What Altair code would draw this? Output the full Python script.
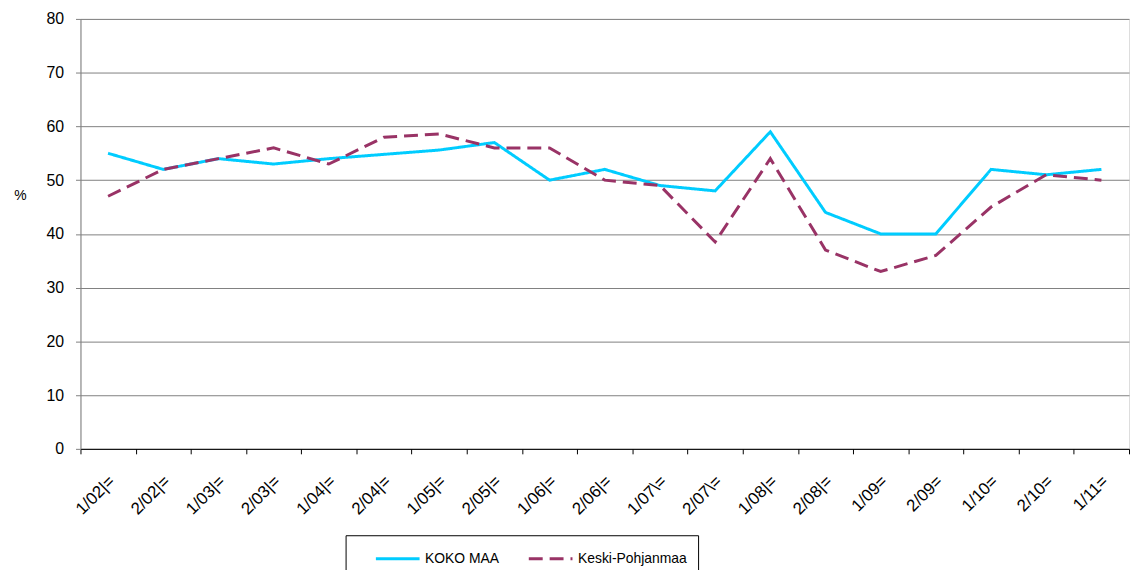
import altair as alt
import pandas as pd

periods = ["1/02|=", "2/02|=", "1/03|=", "2/03|=", "1/04|=", "2/04|=", "1/05|=",
           "2/05|=", "1/06|=", "2/06|=", "1/07\\=", "2/07\\=", "1/08|=", "2/08|=",
           "1/09=", "2/09=", "1/10=", "2/10=", "1/11="]
koko_maa = [55, 52, 54, 53, 54, 54.8, 55.6, 57, 50, 52, 49, 48, 59, 44, 40, 40, 52, 51, 52]
keski_pohjanmaa = [47, 52, 54, 56, 53, 58, 58.6, 56, 56, 50, 49, 38.5, 54, 37, 33, 36, 45, 51, 50]
series = ["KOKO MAA", "Keski-Pohjanmaa"]
colors = ["#00CCFF", "#993366"]

rows = []
for name, vals in zip(series, [koko_maa, keski_pohjanmaa]):
    for i, (p, v) in enumerate(zip(periods, vals)):
        rows.append({"period": p, "value": v, "series": name, "order": i})
df = pd.DataFrame(rows)

FONT = "Liberation Sans"


def make_legend():
    return alt.Legend(title=None, orient="none", legendX=267, legendY=520,
                      direction="horizontal", strokeColor="black",
                      padding=11, symbolType="M-2,0L2,0",
                      symbolSize=484, symbolStrokeWidth=3,
                      labelFont=FONT, labelFontSize=14, labelOffset=15,
                      labelColor="black", columnPadding=10,
                      symbolOffset=29)


chart = alt.Chart(df).mark_line(strokeWidth=3).encode(
    x=alt.X("period:N", sort=periods,
            scale=alt.Scale(type="band", paddingInner=0, paddingOuter=0),
            bandPosition=0.5,
            axis=alt.Axis(title=None, tickBand="extent", labelAngle=-45,
                          labelFontSize=17, labelFont=FONT, labelColor="black",
                          domainColor="black", tickColor="black", tickSize=5,
                          labelPadding=19, labelOffset=-2, grid=False)),
    y=alt.Y("value:Q",
            scale=alt.Scale(domain=[0, 80], nice=False, zero=True),
            axis=alt.Axis(title="%", titleAngle=0, titleX=-61, titleY=178,
                          titleAlign="center", titleBaseline="middle",
                          titleFont=FONT, titleFontSize=14, titleFontWeight="normal",
                          values=[0, 10, 20, 30, 40, 50, 60, 70, 80],
                          labelFontSize=16, labelFont=FONT, labelColor="black",
                          domainColor="#808080", tickColor="#808080", tickSize=5,
                          labelPadding=12, gridColor="#808080", gridOpacity=1)),
    color=alt.Color("series:N", scale=alt.Scale(domain=series, range=colors),
                    legend=make_legend()),
    strokeDash=alt.StrokeDash("series:N",
                              scale=alt.Scale(domain=series, range=[[1, 0], [14, 7]]),
                              legend=make_legend()),
    order="order:Q",
).properties(
    width=1056, height=433,
    padding={"left": 73, "top": 9, "right": 2, "bottom": 120},
    autosize=alt.AutoSizeParams(type="none"),
).configure_view(
    stroke="#808080", strokeWidth=1
).configure(background="white")

chart.save("out.html", embed_options={"renderer": "svg", "actions": False})
